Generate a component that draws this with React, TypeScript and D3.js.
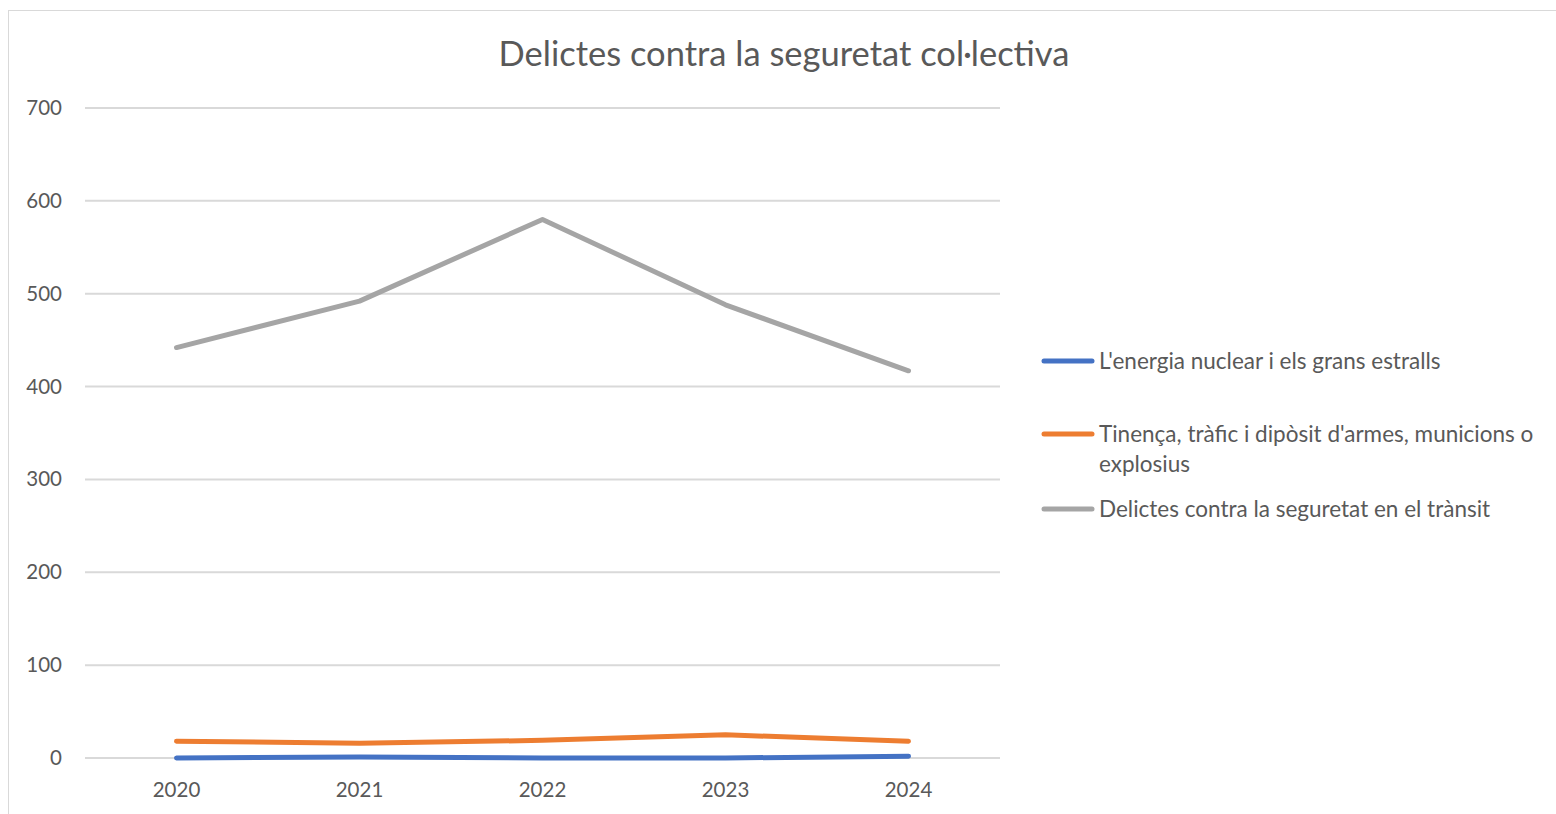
import { useMemo } from 'react';
import { line, scaleBand, scaleLinear } from 'd3';

const years = ['2020', '2021', '2022', '2023', '2024'];
const nuclear = [0, 1, 0, 0, 2];
const armes = [18, 16, 19, 25, 18];
const transit = [442, 492, 580, 488, 417];
const yTicks = [0, 100, 200, 300, 400, 500, 600, 700];

const seriesNames = [
  "L'energia nuclear i els grans estralls",
  "Tinença, tràfic i dipòsit d'armes, municions o",
  'Delictes contra la seguretat en el trànsit',
];
const seriesColors = ['#4472c4', '#ed7d31', '#a5a5a5'];

const width = 1556;
const height = 814;
const font = 'Lato, "Open Sans", sans-serif';

export default function App() {
  const plot = { left: 85, right: 1000, top: 108, bottom: 758 };

  const x = useMemo(() => scaleBand<string>().domain(years).range([plot.left, plot.right]), []);
  const y = useMemo(() => scaleLinear().domain([0, 700]).range([plot.bottom, plot.top]), []);

  const series = [nuclear, armes, transit];
  const path = line<number>()
    .x((_, i) => (x(years[i]) ?? 0) + x.bandwidth() / 2)
    .y((d) => y(d));

  // legend rows, the second one wraps onto two lines
  const legendY = [361, 434, 509];

  return (
    <div style={{ position: 'fixed', left: 0, top: 0 }}>
      <svg width={width} height={height} style={{ display: 'block', background: '#fff' }}>
        <rect x={8.5} y={10.5} width={width} height={height} fill="#fff" stroke="#d9d9d9" />
        <text x={784} y={66} textAnchor="middle" fontFamily={font} fontSize={34.5} fill="#595959">
          Delictes contra la seguretat col·lectiva
        </text>

        {yTicks.map((t) => (
          <g key={t}>
            <line x1={plot.left} x2={plot.right} y1={y(t)} y2={y(t)} stroke="#d9d9d9" strokeWidth={2} />
            <text x={62} y={y(t) + 7} textAnchor="end" fontFamily={font} fontSize={20.5} fill="#595959">
              {t}
            </text>
          </g>
        ))}

        {years.map((yr) => (
          <text
            key={yr}
            x={(x(yr) ?? 0) + x.bandwidth() / 2}
            y={797}
            textAnchor="middle"
            fontFamily={font}
            fontSize={20.5}
            fill="#595959"
          >
            {yr}
          </text>
        ))}

        {series.map((s, i) => (
          <path
            key={i}
            d={path(s) ?? ''}
            fill="none"
            stroke={seriesColors[i]}
            strokeWidth={5}
            strokeLinecap="round"
            strokeLinejoin="round"
          />
        ))}

        {seriesNames.map((name, i) => (
          <g key={name}>
            <line x1={1044} x2={1092} y1={legendY[i]} y2={legendY[i]} stroke={seriesColors[i]} strokeWidth={5} strokeLinecap="round" />
            <text x={1099} y={legendY[i] + 8} fontFamily={font} fontSize={22.5} fill="#595959">
              {name}
            </text>
            {i === 1 ? (
              <text x={1099} y={legendY[i] + 38} fontFamily={font} fontSize={22.5} fill="#595959">
                explosius
              </text>
            ) : null}
          </g>
        ))}
      </svg>
    </div>
  );
}
